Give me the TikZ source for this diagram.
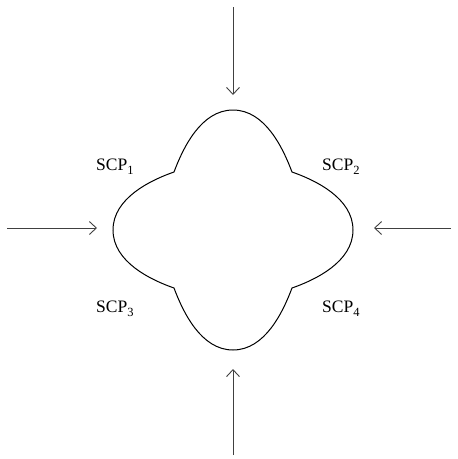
\documentclass[tikz,border=0pt]{standalone}
\usepackage{fontspec}
\setmainfont{Liberation Serif}
\usetikzlibrary{arrows.meta}
\newcommand{\lowsub}[1]{\raisebox{-4pt}{\fontsize{12.5}{14}\selectfont #1}}
\tikzset{
  inarrow/.style={draw=black!75, line width=0.9pt, -{Straight Barb[length=7pt,width=13pt,line width=0.9pt]}},
  lobe/.style={draw=black, line width=1pt, line join=miter},
  scplabel/.style={anchor=base west, inner sep=0pt, font=\fontsize{17.5}{20}\selectfont}
}
\begin{document}
\begin{tikzpicture}[x=1pt,y=-1pt]
\useasboundingbox (0,0) rectangle (458,459);
% shape
\begin{scope}[shift={(233,230)}]
\draw[lobe] (-59,-58)
  .. controls (-50,-82) and (-32,-120) .. (0,-120)
  .. controls (32,-120) and (50,-82) .. (59,-58)
  .. controls (82,-50) and (120,-32) .. (120,0)
  .. controls (120,32) and (82,50) .. (59,58)
  .. controls (50,82) and (32,120) .. (0,120)
  .. controls (-32,120) and (-50,82) .. (-59,58)
  .. controls (-82,50) and (-120,32) .. (-120,0)
  .. controls (-120,-32) and (-82,-50) .. cycle;
\end{scope}
% arrow end points
\coordinate (tS) at (233,7);   \coordinate (tE) at (233,95);
\coordinate (bS) at (233,455); \coordinate (bE) at (233,369);
\coordinate (lS) at (7,228);   \coordinate (lE) at (97,228);
\coordinate (rS) at (451,228); \coordinate (rE) at (374,228);
\draw[inarrow] (tS) -- (tE);
\draw[inarrow] (bS) -- (bE);
\draw[inarrow] (lS) -- (lE);
\draw[inarrow] (rS) -- (rE);
% labels
\node[scplabel] (s1) at (96,170) {SCP\lowsub{1}};
\node[scplabel] (s2) at (322,170) {SCP\lowsub{2}};
\node[scplabel] (s3) at (96,312) {SCP\lowsub{3}};
\node[scplabel] (s4) at (322,312) {SCP\lowsub{4}};
\end{tikzpicture}
\end{document}
